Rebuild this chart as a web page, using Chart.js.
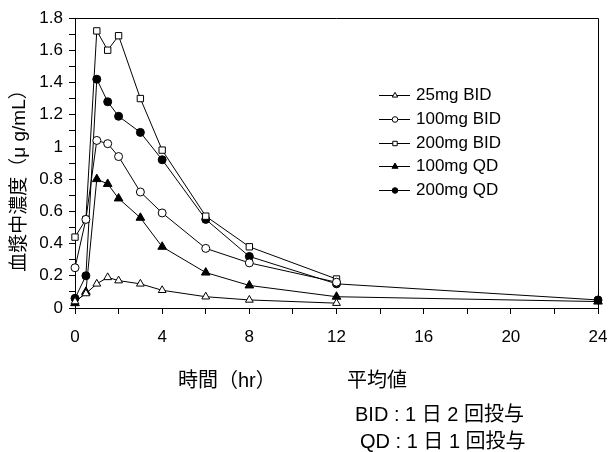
<!DOCTYPE html>
<html>
<head>
<meta charset="utf-8">
<script src="https://cdn.jsdelivr.net/npm/chart.js@4.4.1/dist/chart.umd.min.js"></script>
<style>
  body { margin: 0; background: #fff; }
  #wrap { position: relative; width: 609px; height: 452px; }
  .note { position: absolute; font-family: "Liberation Sans", "Noto Sans CJK JP", sans-serif; font-size: 20px; color: #000; white-space: nowrap; line-height: 20px; }
</style>
</head>
<body>
<div id="wrap">
  <canvas id="chart" width="609" height="452"></canvas>
  <div class="note" style="left:178px; top:370px;">時間（hr）</div>
  <div class="note" style="left:347px; top:370px;">平均値</div>
  <div class="note" style="left:355px; top:404px;">BID : 1 日 2 回投与</div>
  <div class="note" style="left:360px; top:431px;">QD : 1 日 1 回投与</div>
</div>
<script>
// 採血時間 (hr)
const timesBID = [0, 0.5, 1, 1.5, 2, 3, 4, 6, 8, 12];
const timesQD = [0, 0.5, 1, 1.5, 2, 3, 4, 6, 8, 12, 24];

// 平均血漿中濃度 (μg/mL)
const bid25 = [0.04, 0.09, 0.15, 0.19, 0.17, 0.15, 0.11, 0.07, 0.05, 0.03];
const bid100 = [0.25, 0.55, 1.04, 1.02, 0.94, 0.72, 0.59, 0.37, 0.28, 0.16];
const bid200 = [0.44, 0.55, 1.72, 1.60, 1.69, 1.30, 0.98, 0.57, 0.38, 0.18];
const qd100 = [0.03, 0.10, 0.80, 0.77, 0.68, 0.56, 0.38, 0.22, 0.14, 0.07, 0.04];
const qd200 = [0.06, 0.20, 1.42, 1.28, 1.19, 1.09, 0.92, 0.55, 0.32, 0.15, 0.05];

const yTitle = '血漿中濃度（μ g/mL）';

const FONT = "'Liberation Sans', 'Noto Sans CJK JP', sans-serif";

function pts(xs, ys) {
  return xs.map((x, i) => ({ x: x, y: ys[i] }));
}

const series = [
  { label: '25mg BID', data: pts(timesBID, bid25), style: 'triangle', fill: '#fff', r: 4.5 },
  { label: '100mg BID', data: pts(timesBID, bid100), style: 'circle', fill: '#fff', r: 4 },
  { label: '200mg BID', data: pts(timesBID, bid200), style: 'rect', fill: '#fff', r: 4.5 },
  { label: '100mg QD', data: pts(timesQD, qd100), style: 'triangle', fill: '#000', r: 5 },
  { label: '200mg QD', data: pts(timesQD, qd200), style: 'circle', fill: '#000', r: 4 },
];

// 枠線・凡例・縦軸タイトル
const framePlugin = {
  id: 'frame',
  afterDraw(chart) {
    const ctx = chart.ctx;
    const a = chart.chartArea;
    ctx.save();
    ctx.strokeStyle = '#000';
    ctx.lineWidth = 1;
    ctx.beginPath();
    ctx.moveTo(a.left, a.top + 0.5);
    ctx.lineTo(a.right + 0.5, a.top + 0.5);
    ctx.lineTo(a.right + 0.5, a.bottom);
    ctx.stroke();

    // legend
    const lx = 379, ly = 95, gap = 23.8;
    ctx.font = '17px ' + FONT;
    ctx.textBaseline = 'middle';
    series.forEach((s, i) => {
      const y = Math.round(ly + i * gap) + 0.5;
      ctx.strokeStyle = '#000';
      ctx.lineWidth = 1;
      ctx.beginPath();
      ctx.moveTo(lx, y);
      ctx.lineTo(lx + 31, y);
      ctx.stroke();
      ctx.fillStyle = s.fill;
      Chart.helpers.drawPoint(ctx, { pointStyle: s.style, radius: s.r * 0.7, rotation: 0, borderWidth: 1 }, lx + 16, y);
      ctx.fillStyle = '#000';
      ctx.fillText(s.label, lx + 37, y);
    });

    // y title
    ctx.translate(20, 176);
    ctx.rotate(-Math.PI / 2);
    ctx.font = '19px ' + FONT;
    ctx.textAlign = 'center';
    ctx.fillStyle = '#000';
    ctx.fillText(yTitle, 0, 0);
    ctx.restore();
  }
};

new Chart(document.getElementById('chart'), {
  type: 'line',
  data: {
    datasets: series.map(s => ({
      label: s.label,
      data: s.data,
      borderColor: '#000',
      borderWidth: 1,
      pointStyle: s.style,
      pointRadius: s.r,
      pointBackgroundColor: s.fill,
      pointBorderColor: '#000',
      pointBorderWidth: 1,
      tension: 0,
      clip: false,
    })),
  },
  options: {
    responsive: false,
    animation: false,
    layout: { padding: { left: 0, top: 18, right: 11, bottom: 0 } },
    plugins: {
      legend: { display: false },
      tooltip: { enabled: false },
    },
    scales: {
      x: {
        type: 'linear',
        min: 0,
        max: 24,
        ticks: {
          stepSize: 2,
          color: '#000',
          font: { family: FONT, size: 17 },
          padding: 13,
          maxRotation: 0,
          autoSkip: false,
          callback: v => (v % 4 === 0 ? String(v) : ''),
        },
        grid: { drawOnChartArea: false, drawTicks: true, tickLength: 6, color: '#000' },
        border: { color: '#000', width: 1 },
        afterFit(axis) {
          axis.height = 144;
          axis.paddingLeft = 0;
          axis.paddingRight = 0;
        },
      },
      y: {
        min: 0,
        max: 1.8,
        ticks: {
          stepSize: 0.1,
          color: '#000',
          font: { family: FONT, size: 17 },
          padding: 6,
          autoSkip: false,
          callback: (v, i) => (i % 2 === 0 ? String(Number(v.toFixed(1))) : ''),
        },
        grid: { drawOnChartArea: false, drawTicks: true, tickLength: 6, color: '#000' },
        border: { color: '#000', width: 1 },
        afterFit(axis) { axis.width = 75; },
      },
    },
  },
  plugins: [framePlugin],
});
</script>
</body>
</html>
